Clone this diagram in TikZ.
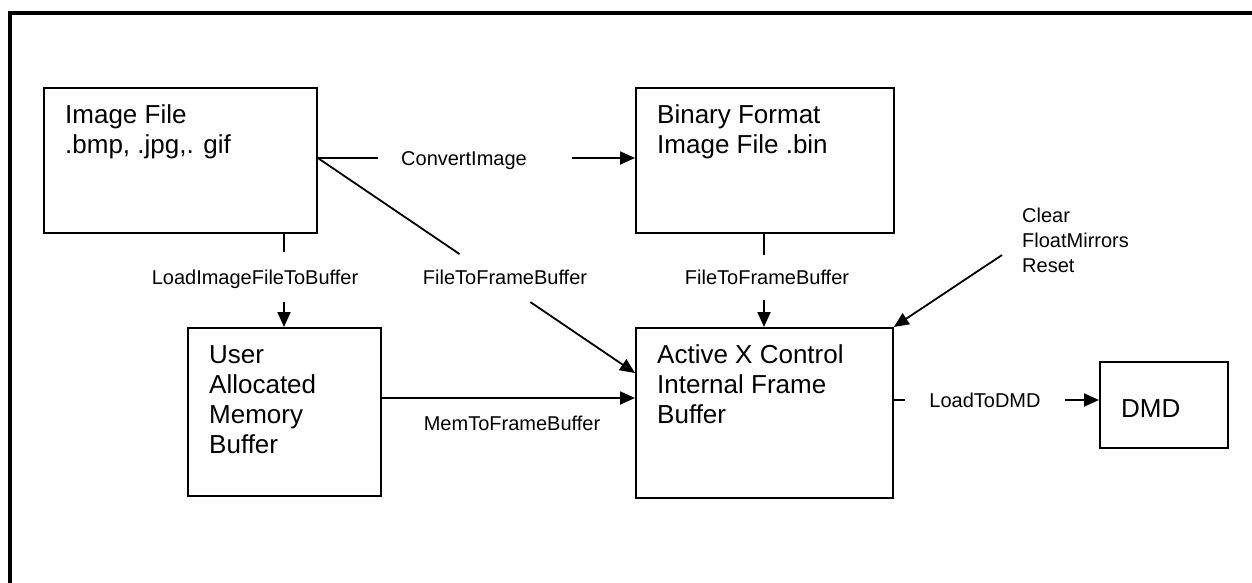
\documentclass[tikz,border=0pt]{standalone}
\usepackage{fontspec}
\setmainfont{Liberation Sans}
\usetikzlibrary{arrows.meta,calc}
% stacked left-aligned lines, baseline at the first line
\newcommand{\boxlines}[1]{\begin{tabular}[t]{@{}l@{}}#1\end{tabular}}
\begin{document}
\begin{tikzpicture}[x=1pt,y=-1pt,
  box/.style={draw, line width=1.8pt, rectangle, anchor=north west, inner sep=0pt},
  boxtxt/.style={anchor=base west, inner sep=0pt, font=\fontsize{26}{30}\selectfont},
  lbl/.style={anchor=base, inner sep=0pt, font=\fontsize{20}{25}\selectfont},
  conn/.style={line width=1.8pt},
  arr/.style={conn, -{Triangle[length=15pt,width=13pt]}}]
\useasboundingbox (0,0) rectangle (1252,582);

% outer frame (only the left and top edges are inside the page)
\draw[line width=3.6pt, line join=miter] (9.8,590) -- (9.8,13) -- (1260,13);

% boxes
\node[box, minimum width=273pt, minimum height=145pt] (img) at (43,87) {};
\node[box, minimum width=258pt, minimum height=145pt] (bin) at (635,87) {};
\node[box, minimum width=193pt, minimum height=168pt] (usr) at (187,327) {};
\node[box, minimum width=257pt, minimum height=170pt] (act) at (635,327) {};
\node[box, minimum width=128pt, minimum height=86pt] (dmd) at (1099,361) {};

% box texts
\node[boxtxt] (imgT) at ([shift={(22,36)}]img.north west) {\boxlines{Image File\\.bmp, .jpg,. gif}};
\node[boxtxt] (binT) at ([shift={(22,36)}]bin.north west) {\boxlines{Binary Format\\Image File .bin}};
\node[boxtxt] (usrT) at ([shift={(22,36)}]usr.north west) {\boxlines{User\\Allocated\\Memory\\Buffer}};
\node[boxtxt] (actT) at ([shift={(22,36)}]act.north west) {\boxlines{Active X Control\\Internal Frame\\Buffer}};
\node[boxtxt] (dmdT) at ([shift={(22,56)}]dmd.north west) {DMD};

% ConvertImage
\coordinate (ci1) at (378,158);
\coordinate (ci2) at (572,158);
\draw[conn] (img.east |- ci1) -- (ci1);
\draw[arr] (ci2) -- (bin.west |- ci2);
\node[lbl] (ciL) at (464,165) {ConvertImage};

% LoadImageFileToBuffer
\coordinate (li1) at (284,252);
\coordinate (li2) at (284,302);
\draw[conn] (li1 |- img.south) -- (li1);
\draw[arr] (li2) -- (li2 |- usr.north);
\node[lbl] (liL) at (255,284) {LoadImageFileToBuffer};

% FileToFrameBuffer (direct from image file)
\coordinate (dgS) at (img.east |- ci1);
\coordinate (dgE) at (act.west |- 0,373);
\coordinate (dg1) at ($(dgS)!0.447!(dgE)$);
\coordinate (dg2) at ($(dgS)!0.67!(dgE)$);
\draw[conn] (dgS) -- (dg1);
\draw[arr] (dg2) -- (dgE);
\node[lbl] (dgL) at (505,284) {FileToFrameBuffer};

% FileToFrameBuffer (from binary file)
\coordinate (fb1) at (764,255);
\coordinate (fb2) at (764,300);
\draw[conn] (fb1 |- bin.south) -- (fb1);
\draw[arr] (fb2) -- (fb2 |- act.north);
\node[lbl] (fbL) at (767,284) {FileToFrameBuffer};

% MemToFrameBuffer
\coordinate (mm) at (0,398);
\draw[arr] (usr.east |- mm) -- (act.west |- mm);
\node[lbl] (mmL) at (512,430) {MemToFrameBuffer};

% LoadToDMD
\coordinate (ld1) at (905,400);
\coordinate (ld2) at (1065,400);
\draw[conn] (act.east |- ld1) -- (ld1);
\draw[arr] (ld2) -- (dmd.west |- ld2);
\node[lbl] (ldL) at (985,407) {LoadToDMD};

% Clear / FloatMirrors / Reset
\coordinate (clr) at (1002,255);
\draw[arr] (clr) -- (act.north east);
\node[anchor=base west, inner sep=0pt, font=\fontsize{20}{25}\selectfont] (clrT) at (1022,222) {\boxlines{Clear\\FloatMirrors\\Reset}};
\end{tikzpicture}
\end{document}
